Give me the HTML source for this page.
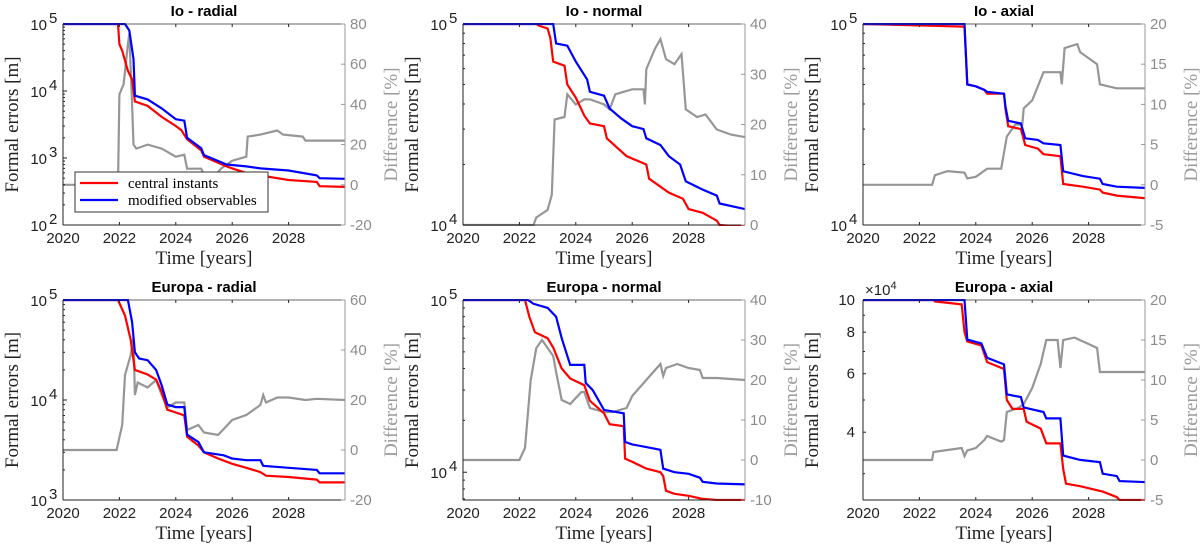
<!DOCTYPE html>
<html><head><meta charset="utf-8"><style>
html,body{margin:0;padding:0;background:#fff;width:1200px;height:551px;overflow:hidden}
svg{display:block}
.tk{font-family:"Liberation Sans",sans-serif;font-size:15px;fill:#222}
.tkr{font-family:"Liberation Sans",sans-serif;font-size:15px;fill:#8c8c8c}
.ttl{font-family:"Liberation Sans",sans-serif;font-size:15px;font-weight:bold;fill:#000}
.lab{font-family:"Liberation Serif",serif;font-size:19px;fill:#222}
.labr{font-family:"Liberation Serif",serif;font-size:19px;fill:#9a9a9a}
.leg{font-family:"Liberation Serif",serif;font-size:15px;fill:#000}
</style></head><body>
<svg id="fig" width="1200" height="551" xmlns="http://www.w3.org/2000/svg"></svg>
<script>
// ---------- data (years / values) ----------
const ioRadialRedT=[2020,2021.95,2022.0,2022.1,2022.3,2022.45,2022.55,2023,2023.5,2024,2024.2,2024.4,2024.9,2025,2025.8,2026,2026.5,2027,2028,2029,2029.1,2030];
const ioRadialRedV=[1e5,1e5,5e4,4e4,2e4,1.5e4,7e3,6e3,4.1e3,3e3,2.6e3,1.9e3,1.3e3,1.05e3,750,700,600,550,470,440,380,370];
const ioRadialBlueT=[2020,2022.2,2022.35,2022.5,2022.55,2023,2023.5,2024,2024.3,2024.4,2024.9,2025,2025.8,2026.5,2027,2028,2029,2029.1,2030];
const ioRadialBlueV=[1e5,1e5,8e4,3e4,8.5e3,7.5e3,5.5e3,3.8e3,3.6e3,2e3,1.4e3,1.1e3,800,750,700,650,550,500,490];
const ioRadialDiffT=[2020,2021.95,2022.0,2022.15,2022.3,2022.35,2022.45,2022.5,2022.6,2023,2023.5,2024,2024.3,2024.4,2024.9,2025.0,2025.3,2025.6,2026,2026.5,2026.55,2027,2027.6,2027.8,2028.5,2028.6,2029.1,2030];
const ioRadialDiffV=[0,0,45,50,70,75,40,20,18,20,18,14,15,8,8,5,3,8,12,14,24,25,27,25,24,22,22,22];

const ioNormalRedT=[2020,2022.6,2022.7,2023,2023.1,2023.2,2023.6,2023.7,2024,2024.3,2024.5,2025,2025.1,2025.5,2025.8,2026.5,2026.6,2027,2027.3,2027.8,2028,2028.5,2029,2029.1,2030];
const ioNormalRedV=[1e5,1e5,9.8e4,9.5e4,8.5e4,6.5e4,6.2e4,5e4,4.3e4,3.5e4,3.2e4,3.1e4,2.7e4,2.4e4,2.2e4,2e4,1.7e4,1.55e4,1.45e4,1.35e4,1.2e4,1.15e4,1.05e4,1e4,9.8e3];
const ioNormalBlueT=[2020,2023.2,2023.3,2023.7,2024,2024.4,2024.5,2025,2025.2,2025.6,2026,2026.4,2026.5,2027,2027.3,2027.7,2027.9,2028.5,2029,2029.1,2030];
const ioNormalBlueV=[1e5,1e5,8e4,7.8e4,6.5e4,5.3e4,4.6e4,4.4e4,3.8e4,3.4e4,3.1e4,3e4,2.7e4,2.5e4,2.2e4,2e4,1.65e4,1.5e4,1.4e4,1.28e4,1.2e4];
const ioNormalDiffT=[2020,2022.5,2022.6,2023,2023.15,2023.25,2023.6,2023.7,2024,2024.3,2024.5,2025,2025.2,2025.4,2025.7,2026,2026.4,2026.45,2026.5,2026.8,2027,2027.2,2027.5,2027.75,2027.9,2028.3,2028.6,2029,2029.5,2030];
const ioNormalDiffV=[0,0,1.5,3,6,21,21.5,26,24,25,25,24,23,26,26.5,27,27,24,31,35,37,33,32,34,23,21.5,22,19,18,17.5];

const ioAxialRedT=[2020,2022.5,2023.6,2023.7,2024,2024.3,2024.4,2025,2025.05,2025.15,2025.6,2025.75,2026.2,2026.4,2027,2027.1,2027.8,2028.4,2028.5,2029,2030];
const ioAxialRedV=[1e5,9.8e4,9.7e4,5e4,4.9e4,4.7e4,4.5e4,4.5e4,3.8e4,3.1e4,3e4,2.5e4,2.4e4,2.25e4,2.2e4,1.6e4,1.55e4,1.5e4,1.45e4,1.4e4,1.36e4];
const ioAxialBlueT=[2020,2023.6,2023.7,2024,2024.3,2024.4,2025,2025.05,2025.15,2025.6,2025.75,2026.2,2026.4,2027,2027.1,2027.8,2028.4,2028.5,2029,2030];
const ioAxialBlueV=[1e5,1e5,5e4,4.9e4,4.7e4,4.6e4,4.5e4,3.9e4,3.3e4,3.2e4,2.7e4,2.65e4,2.55e4,2.5e4,1.85e4,1.75e4,1.7e4,1.6e4,1.55e4,1.53e4];
const ioAxialDiffT=[2020,2022.45,2022.55,2023,2023.6,2023.7,2024,2024.4,2024.9,2025.1,2025.4,2025.65,2025.7,2026,2026.4,2027,2027.05,2027.15,2027.6,2027.7,2028.3,2028.4,2029,2030];
const ioAxialDiffV=[0,0,1.2,1.7,1.5,0.8,1,2,2,6,7.5,7.5,9.5,10.5,14,14,12.5,17,17.5,16.5,15,12.5,12,12];

const euRadialRedT=[2020,2021.95,2022.2,2022.4,2022.55,2023,2023.3,2023.5,2023.7,2024,2024.3,2024.4,2024.8,2025,2025.5,2026,2026.5,2027,2027.2,2028,2029,2029.1,2030];
const euRadialRedV=[1e5,1e5,7e4,4e4,2e4,1.8e4,1.6e4,1.2e4,8e3,7.5e3,7e3,4.3e3,3.5e3,3e3,2.6e3,2.3e3,2.1e3,1.9e3,1.75e3,1.7e3,1.6e3,1.5e3,1.5e3];
const euRadialBlueT=[2020,2022.3,2022.45,2022.55,2022.7,2023,2023.3,2023.5,2023.7,2024,2024.3,2024.4,2024.8,2025,2025.7,2026,2026.5,2027,2027.1,2028,2029,2029.1,2030];
const euRadialBlueV=[1e5,1e5,6e4,3e4,2.6e4,2.5e4,2e4,1.4e4,9e3,8.5e3,8.5e3,4.5e3,3.8e3,3e3,2.8e3,2.6e3,2.5e3,2.5e3,2.2e3,2.1e3,2e3,1.85e3,1.85e3];
const euRadialDiffT=[2020,2021.9,2022.1,2022.2,2022.4,2022.5,2022.55,2022.65,2023,2023.3,2023.5,2023.7,2024,2024.3,2024.4,2024.8,2025,2025.5,2026,2026.5,2027,2027.1,2027.2,2027.6,2028,2028.6,2029,2030];
const euRadialDiffV=[0,0,10,30,38,45,22,27,25,28,22,17,19,19,8,10,7,6,12,14,18,22,19,21,21,20,20.5,20];

const euNormalRedT=[2020,2022.2,2022.35,2022.55,2023,2023.2,2023.5,2023.8,2024.3,2024.5,2025,2025.2,2025.7,2025.75,2026,2026.5,2027,2027.1,2027.2,2027.5,2028,2028.5,2029,2030];
const euNormalRedV=[1e5,1e5,8e4,6.5e4,6e4,5.3e4,4e4,3.5e4,3.2e4,2.6e4,2.2e4,1.9e4,1.85e4,1.2e4,1.15e4,1.05e4,1e4,9.5e3,7.8e3,7.5e3,7.3e3,7e3,6.9e3,6.9e3];
const euNormalBlueT=[2020,2022.3,2022.5,2023,2023.3,2023.5,2023.8,2024.3,2024.35,2024.6,2025,2025.7,2025.75,2026,2026.5,2027,2027.1,2027.5,2028,2028.4,2028.5,2029,2030];
const euNormalBlueV=[1e5,1e5,9.5e4,9e4,8e4,6e4,4.2e4,4.2e4,3.3e4,3e4,2.3e4,2.2e4,1.5e4,1.45e4,1.4e4,1.35e4,1.05e4,1e4,9.8e3,9.3e3,8.8e3,8.6e3,8.5e3];
const euNormalDiffT=[2020,2022.0,2022.2,2022.4,2022.6,2022.8,2023,2023.2,2023.3,2023.5,2023.8,2024.2,2024.3,2024.5,2025,2025.3,2025.8,2026,2026.5,2027,2027.1,2027.2,2027.6,2028,2028.4,2028.5,2029,2030];
const euNormalDiffV=[0,0,3,20,28,30,28,26,22,15,14,17,17,13,12,12,13,16,20,24,21,23,24,23,22.5,20.5,20.5,20];

const euAxialRedT=[2020,2022.5,2022.55,2023.5,2023.6,2023.7,2024.2,2024.4,2025,2025.1,2025.3,2025.7,2025.8,2026.3,2026.5,2027,2027.1,2027.2,2027.7,2028.5,2029,2029.1,2030];
const euAxialRedV=[1e5,1e5,9.9e4,9.7e4,8e4,7.5e4,7.3e4,6.5e4,6.2e4,5e4,4.7e4,4.7e4,4.3e4,4.1e4,3.7e4,3.7e4,3.1e4,2.8e4,2.75e4,2.65e4,2.55e4,2.5e4,2.5e4];
const euAxialBlueT=[2020,2023.6,2023.7,2024.2,2024.4,2025,2025.1,2025.6,2025.7,2026.4,2026.5,2027,2027.1,2027.7,2028.4,2028.5,2029,2029.1,2030];
const euAxialBlueV=[1e5,1e5,7.6e4,7.4e4,6.7e4,6.4e4,5.2e4,5.1e4,4.75e4,4.6e4,4.4e4,4.4e4,3.4e4,3.3e4,3.25e4,3e4,2.95e4,2.85e4,2.83e4];
const euAxialDiffT=[2020,2022.45,2022.5,2023.5,2023.6,2023.7,2024,2024.3,2024.4,2024.9,2025,2025.1,2025.5,2025.7,2026,2026.3,2026.5,2026.9,2027,2027.1,2027.5,2028,2028.3,2028.4,2029,2030];
const euAxialDiffV=[0,0,1,1.5,0.5,1.2,1.5,2.5,3,2.3,2.5,6,6.5,7,9,12,15,15,11.5,15,15.3,14.5,14,11,11,11];

const xTicks=[2020,2022,2024,2026,2028];
const titles=["Io - radial","Io - normal","Io - axial","Europa - radial","Europa - normal","Europa - axial"];

// ---------- drawing ----------
const NS="http://www.w3.org/2000/svg";
const fig=document.getElementById('fig');
function mk(tag,attrs,parent,text){const e=document.createElementNS(NS,tag);for(const k in attrs)e.setAttribute(k,attrs[k]);if(text!==undefined)e.textContent=text;(parent||fig).appendChild(e);return e;}

const panels=[
 {name:'io-radial',x0:63,y0:24,yMin:1e2,yMax:1e5,rMin:-20,rMax:80,rStep:20,red:[ioRadialRedT,ioRadialRedV],blue:[ioRadialBlueT,ioRadialBlueV],diff:[ioRadialDiffT,ioRadialDiffV],legend:true},
 {name:'io-normal',x0:463,y0:24,yMin:1e4,yMax:1e5,rMin:0,rMax:40,rStep:10,red:[ioNormalRedT,ioNormalRedV],blue:[ioNormalBlueT,ioNormalBlueV],diff:[ioNormalDiffT,ioNormalDiffV]},
 {name:'io-axial',x0:863,y0:24,yMin:1e4,yMax:1e5,rMin:-5,rMax:20,rStep:5,red:[ioAxialRedT,ioAxialRedV],blue:[ioAxialBlueT,ioAxialBlueV],diff:[ioAxialDiffT,ioAxialDiffV]},
 {name:'europa-radial',x0:63,y0:300,yMin:1e3,yMax:1e5,rMin:-20,rMax:60,rStep:20,red:[euRadialRedT,euRadialRedV],blue:[euRadialBlueT,euRadialBlueV],diff:[euRadialDiffT,euRadialDiffV]},
 {name:'europa-normal',x0:463,y0:300,yMin:6.9e3,yMax:1e5,rMin:-10,rMax:40,rStep:10,red:[euNormalRedT,euNormalRedV],blue:[euNormalBlueT,euNormalBlueV],diff:[euNormalDiffT,euNormalDiffV]},
 {name:'europa-axial',x0:863,y0:300,yMin:2.5e4,yMax:1e5,rMin:-5,rMax:20,rStep:5,red:[euAxialRedT,euAxialRedV],blue:[euAxialBlueT,euAxialBlueV],diff:[euAxialDiffT,euAxialDiffV],linear:true}
];
const W=282,H=201;

panels.forEach((p,i)=>{
  const g=mk('g',{});
  
  
  const h=(i<3)?201:200;
  const X=t=>p.x0+(t-2020)/10*W;
  const Y=v=>p.y0+h*(Math.log10(p.yMax)-Math.log10(v))/(Math.log10(p.yMax)-Math.log10(p.yMin));
  const R=v=>p.y0+h*(p.rMax-v)/(p.rMax-p.rMin);
  const pts=(T,V,f)=>T.map((t,k)=>X(t).toFixed(1)+','+f(V[k]).toFixed(1)).join(' ');
  // clip
  const cid='clip'+i;
  const cp=mk('clipPath',{id:cid},g);mk('rect',{x:p.x0,y:p.y0-1,width:W,height:h+2},cp);
  // series
  const dl=mk('polyline',{points:pts(p.diff[0],p.diff[1],R),fill:'none',stroke:'#969696','stroke-width':2.2,'clip-path':'url(#'+cid+')'},g);
  
  
  const rl=mk('polyline',{points:pts(p.red[0],p.red[1],Y),fill:'none',stroke:'#ff0000','stroke-width':2.2,'clip-path':'url(#'+cid+')'},g);
  
  
  const bl=mk('polyline',{points:pts(p.blue[0],p.blue[1],Y),fill:'none',stroke:'#0000ff','stroke-width':2.2,'clip-path':'url(#'+cid+')'},g);
  
  
  // axes
  mk('line',{x1:p.x0,y1:p.y0,x2:p.x0+W,y2:p.y0,stroke:'#333','stroke-width':0.8},g);
  mk('line',{x1:p.x0,y1:p.y0+h,x2:p.x0+W,y2:p.y0+h,stroke:'#222','stroke-width':1},g);
  mk('line',{x1:p.x0,y1:p.y0,x2:p.x0,y2:p.y0+h,stroke:'#222','stroke-width':1},g);
  mk('line',{x1:p.x0+W,y1:p.y0,x2:p.x0+W,y2:p.y0+h,stroke:'#999','stroke-width':1},g);
  // x ticks
  xTicks.forEach(t=>{
    mk('line',{x1:X(t),y1:p.y0+h,x2:X(t),y2:p.y0+h-3,stroke:'#222'},g);
    mk('line',{x1:X(t),y1:p.y0,x2:X(t),y2:p.y0+3,stroke:'#222'},g);
    const tl=mk('text',{x:X(t),y:p.y0+h+18,'text-anchor':'middle',class:'tk'},g,String(t));
    
    
  });
  // left y ticks
  if(p.linear){
    [4e4,6e4,8e4,10e4].forEach(v=>{
      mk('line',{x1:p.x0,y1:Y(v),x2:p.x0+3,y2:Y(v),stroke:'#222'},g);
      mk('text',{x:p.x0-8,y:Y(v)+5,'text-anchor':'end',class:'tk'},g,String(v/1e4));
    });
    [3e4,5e4,7e4,9e4].forEach(v=>mk('line',{x1:p.x0,y1:Y(v),x2:p.x0+2,y2:Y(v),stroke:'#222'},g));
    const ex=mk('text',{x:p.x0+2,y:p.y0-5,class:'tk'},g);
    mk('tspan',{},ex,'×10');
    mk('tspan',{dy:-6,'font-size':11},ex,'4');
  } else {
    const lo=Math.ceil(Math.log10(p.yMin)-1e-9),hi=Math.floor(Math.log10(p.yMax)+1e-9);
    for(let e=lo;e<=hi;e++){
      const y=Y(Math.pow(10,e));
      mk('line',{x1:p.x0,y1:y,x2:p.x0+4,y2:y,stroke:'#222'},g);
      const tl=mk('text',{x:p.x0-16,y:y+6,'text-anchor':'end',class:'tk'},g,'10');
      
      
      mk('text',{x:p.x0-14,y:y-1,class:'tk','font-size':11},g,String(e));
    }
    for(let e=Math.floor(Math.log10(p.yMin));e<hi;e++){
      for(let m=2;m<10;m++){const v=m*Math.pow(10,e);if(v<p.yMin||v>p.yMax)continue;
        mk('line',{x1:p.x0,y1:Y(v),x2:p.x0+2,y2:Y(v),stroke:'#222'},g);}
    }
  }
  // right ticks
  for(let v=p.rMin;v<=p.rMax+1e-9;v+=p.rStep){
    mk('line',{x1:p.x0+W,y1:R(v),x2:p.x0+W-4,y2:R(v),stroke:'#999'},g);
    const tl=mk('text',{x:p.x0+W+5,y:R(v)+5,class:'tkr'},g,String(v));
    
    
  }
  // labels
  const t=mk('text',{x:p.x0+W/2,y:p.y0-8,'text-anchor':'middle',class:'ttl'},g,titles[i]);
  
  
  const xl=mk('text',{x:p.x0+W/2,y:p.y0+h+39,'text-anchor':'middle',class:'lab'},g,'Time [years]');
  
  
  const yl=mk('text',{x:0,y:0,'text-anchor':'middle',class:'lab',transform:`translate(${p.x0-45},${p.y0+h/2}) rotate(-90)`},g,'Formal errors [m]');
  
  
  const yr=mk('text',{x:0,y:0,'text-anchor':'middle',class:'labr',transform:`translate(${p.x0+W+52},${p.y0+h/2}) rotate(-90)`},g,'Difference [%]');
  
  
  if(p.legend){
    const lg=mk('g',{},g);
    
    
    mk('rect',{x:75,y:172,width:193,height:40,fill:'#fff',stroke:'#333','stroke-width':1},lg);
    mk('line',{x1:80,y1:183,x2:118,y2:183,stroke:'#ff0000','stroke-width':2.2},lg);
    mk('text',{x:128,y:188,class:'leg'},lg,'central instants');
    mk('line',{x1:80,y1:200,x2:118,y2:200,stroke:'#0000ff','stroke-width':2.2},lg);
    mk('text',{x:128,y:205,class:'leg'},lg,'modified observables');
  }
});
</script>
</body></html>
